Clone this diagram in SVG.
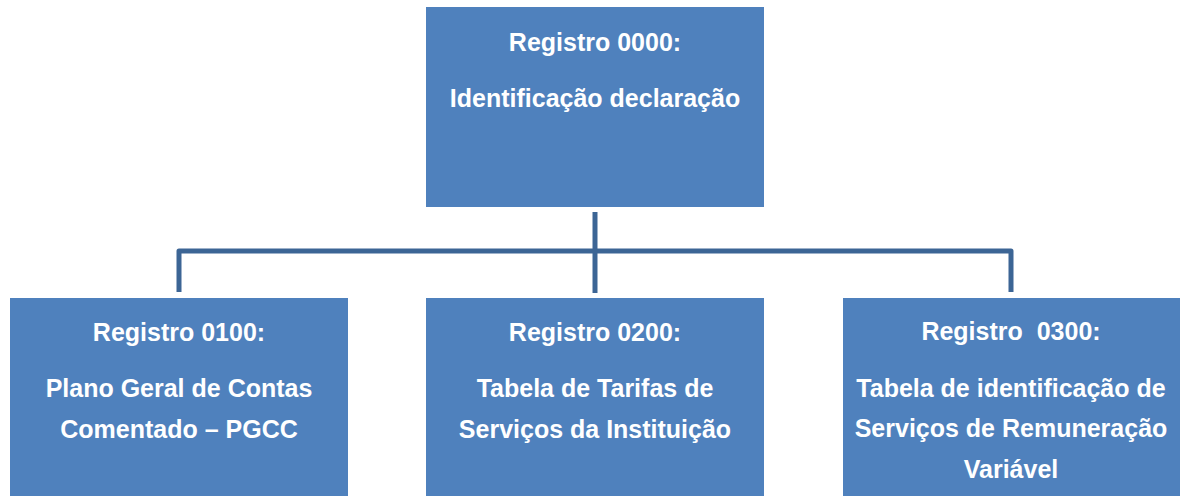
<svg xmlns="http://www.w3.org/2000/svg" width="1183" height="496" viewBox="0 0 1183 496">
<style>
.box{fill:#4F81BD;}
.t{font-family:"Liberation Sans",Arial,sans-serif;font-weight:bold;font-size:25px;fill:#FFFFFF;text-anchor:middle;white-space:pre;}
.c{fill:none;stroke:#3C6595;stroke-width:5;stroke-linejoin:round;}
</style>
<rect width="1183" height="496" fill="#FFFFFF"/>
<g id="connectors">
<path class="c" d="M595 212 V293"/>
<path class="c" d="M179 292 V251 H1011 V292"/>
</g>
<g id="n0000">
<rect class="box" x="426" y="7" width="338" height="200"/>
<text class="t" x="595" y="51">Registro 0000:</text>
<text class="t" x="595" y="107">Identificação declaração</text>
</g>
<g id="n0100">
<rect class="box" x="10" y="298" width="338" height="200"/>
<text class="t" x="179" y="341">Registro 0100:</text>
<text class="t" x="179" y="397">Plano Geral de Contas</text>
<text class="t" x="179" y="438">Comentado – PGCC</text>
</g>
<g id="n0200">
<rect class="box" x="426" y="298" width="338" height="200"/>
<text class="t" x="595" y="341">Registro 0200:</text>
<text class="t" x="595" y="397">Tabela de Tarifas de</text>
<text class="t" x="595" y="438">Serviços da Instituição</text>
</g>
<g id="n0300">
<rect class="box" x="843" y="298" width="337" height="200"/>
<text class="t" x="1011" y="340">Registro  0300:</text>
<text class="t" x="1011" y="397">Tabela de identificação de</text>
<text class="t" x="1011" y="437">Serviços de Remuneração</text>
<text class="t" x="1011" y="478">Variável</text>
</g>
</svg>
